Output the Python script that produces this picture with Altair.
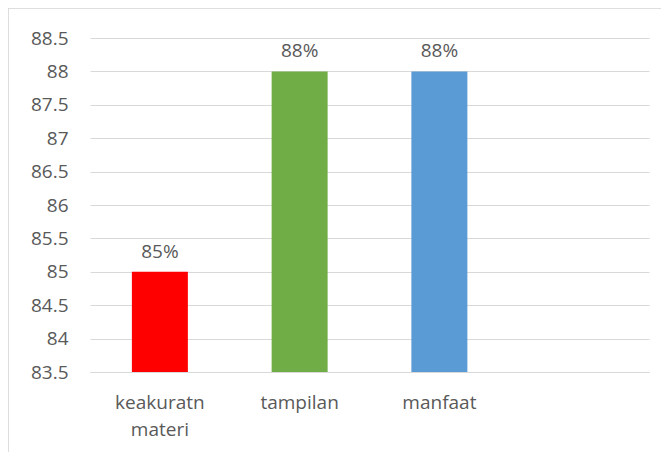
import altair as alt
import pandas as pd

categories = ["keakuratn materi", "tampilan", "manfaat"]
values = [85, 88, 88]
labels = ["85%", "88%", "88%"]
colors = ["#FF0000", "#70AD47", "#5B9BD5"]
x_domain = categories + [" "]
y_ticks = [83.5, 84, 84.5, 85, 85.5, 86, 86.5, 87, 87.5, 88, 88.5]
y_min, y_max = 83.5, 88.5

df = pd.DataFrame({"cat": categories, "val": values, "lab": labels, "col": colors})

FONT = "Open Sans"
TXT = "#595959"
FS = 19
W, H = 559, 334

x_enc = alt.X("cat:N", scale=alt.Scale(domain=x_domain, paddingInner=0, paddingOuter=0),
              sort=x_domain,
              axis=alt.Axis(title=None, labelAngle=0, ticks=False, domainColor="#d9d9d9",
                            labelColor=TXT, labelFont=FONT, labelFontSize=FS,
                            labelPadding=21, labelLineHeight=27, labelOverlap=False,
                            labelExpr="split(datum.label, ' ')", grid=False))
y_scale = alt.Scale(domain=[y_min, y_max], zero=False, nice=False)

bars = alt.Chart(df).mark_bar(size=56).encode(
    x=x_enc,
    y=alt.Y("val:Q", scale=y_scale,
            axis=alt.Axis(title=None, values=y_ticks, format="~g", ticks=False, domain=False,
                          gridColor="#d9d9d9", gridWidth=1, labelColor=TXT, labelFont=FONT,
                          labelFontSize=FS, labelPadding=22, labelOverlap=False,
                          labelBound=False, tickCount=11)),
    y2=alt.datum(y_min),
    color=alt.Color("col:N", scale=None),
)

text = alt.Chart(df).mark_text(dy=-20, font=FONT, fontSize=FS, color=TXT).encode(
    x=alt.X("cat:N", sort=x_domain),
    y=alt.Y("val:Q", scale=y_scale),
    text="lab:N",
)

border_left = alt.Chart(df).mark_rule(color="#d9d9d9", strokeWidth=1).encode(
    x=alt.value(-82), y=alt.value(-30), y2=alt.value(H + 120))
border_top = alt.Chart(df).mark_rule(color="#d9d9d9", strokeWidth=1).encode(
    x=alt.value(-82), x2=alt.value(W + 60), y=alt.value(-30))

chart = alt.layer(bars, text, border_left, border_top).properties(
    width=W, height=H,
    autosize=alt.AutoSizeParams(type="none"),
    padding={"left": 82, "top": 30, "right": 12, "bottom": 80},
).configure_view(stroke=None)

chart.save("out.html", embed_options={"renderer": "svg", "actions": False})
